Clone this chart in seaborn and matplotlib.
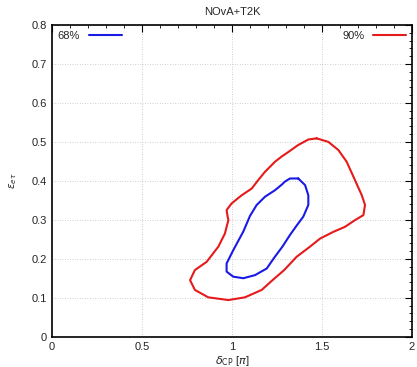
import matplotlib
matplotlib.use("Agg")
import pandas as pd
import matplotlib.pyplot as plt
import seaborn as sns
from matplotlib.ticker import MultipleLocator

# -----------------------------
# Contour data
# -----------------------------
red_x = [1.470, 1.424, 1.368, 1.313, 1.275, 1.239, 1.183, 1.146, 1.109, 1.054,
         0.998, 0.970, 0.975, 0.980, 0.970, 0.961, 0.924, 0.859, 0.794, 0.767,
         0.794, 0.868, 0.980, 1.072, 1.165, 1.225, 1.290, 1.359, 1.433, 1.490,
         1.563, 1.628, 1.683, 1.730, 1.739, 1.721, 1.683, 1.637, 1.591, 1.535,
         1.470]
red_y = [0.509, 0.506, 0.492, 0.474, 0.462, 0.449, 0.423, 0.402, 0.380, 0.363,
         0.342, 0.325, 0.310, 0.299, 0.282, 0.265, 0.231, 0.192, 0.171, 0.145,
         0.120, 0.101, 0.094, 0.101, 0.120, 0.145, 0.171, 0.205, 0.231, 0.252,
         0.269, 0.282, 0.299, 0.312, 0.338, 0.363, 0.402, 0.449, 0.479, 0.500,
         0.509]

blue_x = [1.368, 1.322, 1.294, 1.276, 1.239, 1.183, 1.137, 1.100, 1.063, 1.007,
          0.970, 0.970, 1.007, 1.063, 1.128, 1.193, 1.235, 1.280, 1.322, 1.359,
          1.396, 1.424, 1.424, 1.406, 1.368]
blue_y = [0.406, 0.406, 0.398, 0.390, 0.376, 0.359, 0.338, 0.310, 0.270, 0.222,
          0.188, 0.167, 0.154, 0.150, 0.158, 0.175, 0.203, 0.231, 0.261, 0.285,
          0.308, 0.338, 0.363, 0.389, 0.406]

x_ticks = [0, 0.5, 1, 1.5, 2]
x_labels = ["0", "0.5", "1", "1.5", "2"]
y_ticks = [0, 0.1, 0.2, 0.3, 0.4, 0.5, 0.6, 0.7, 0.8]
y_labels = ["0", "0.1", "0.2", "0.3", "0.4", "0.5", "0.6", "0.7", "0.8"]

red = pd.DataFrame({"x": red_x, "y": red_y})
blue = pd.DataFrame({"x": blue_x, "y": blue_y})

# Style
sns.set_style("white")
plt.rcParams["font.family"] = ["Liberation Sans", "DejaVu Sans"]
plt.rcParams["mathtext.fontset"] = "dejavusans"

fig = plt.figure(figsize=(4.17, 3.67), dpi=100)
ax = fig.add_axes([0.1247, 0.0826, 0.8633, 0.8494])

sns.lineplot(data=blue, x="x", y="y", sort=False, estimator=None,
             color="#1a1ae6", lw=1.5, ax=ax, label="68%")
sns.lineplot(data=red, x="x", y="y", sort=False, estimator=None,
             color="#e61a1a", lw=1.5, ax=ax, label="90%")

ax.set_xlim(0, 2)
ax.set_ylim(0, 0.8)
ax.set_xticks(x_ticks)
ax.set_xticklabels(x_labels)
ax.set_yticks(y_ticks)
ax.set_yticklabels(y_labels)
ax.xaxis.set_minor_locator(MultipleLocator(0.1))
ax.yaxis.set_minor_locator(MultipleLocator(0.02))
ax.tick_params(which="both", direction="in", top=True, right=True,
               labelsize=8, color="black")
ax.tick_params(which="major", length=5, width=0.8)
ax.tick_params(which="minor", length=2.5, width=0.6)

ax.grid(True, which="major", color="#c0c0c0", ls=(0, (1, 2)), lw=0.6)
for s in ax.spines.values():
    s.set_color("black")
    s.set_linewidth(1.2)

ax.set_title("NOvA+T2K", fontsize=8, pad=7)
ax.set_xlabel(r"$\delta_{\rm CP}$ [$\pi$]", fontsize=8, labelpad=2)
ax.set_ylabel(r"$\epsilon_{e\tau}$", fontsize=7.5, labelpad=9)

# Legends
h, l = ax.get_legend_handles_labels()
leg1 = ax.legend([h[0]], [l[0]], loc="upper left", markerfirst=False,
                 frameon=False, fontsize=8, handlelength=3,
                 borderaxespad=0.1, handletextpad=0.8)
ax.add_artist(leg1)
ax.legend([h[1]], [l[1]], loc="upper right", markerfirst=False,
          frameon=False, fontsize=8, handlelength=3,
          borderaxespad=0.1, handletextpad=0.8)

fig.savefig("out.png", dpi=100)
plt.close()
